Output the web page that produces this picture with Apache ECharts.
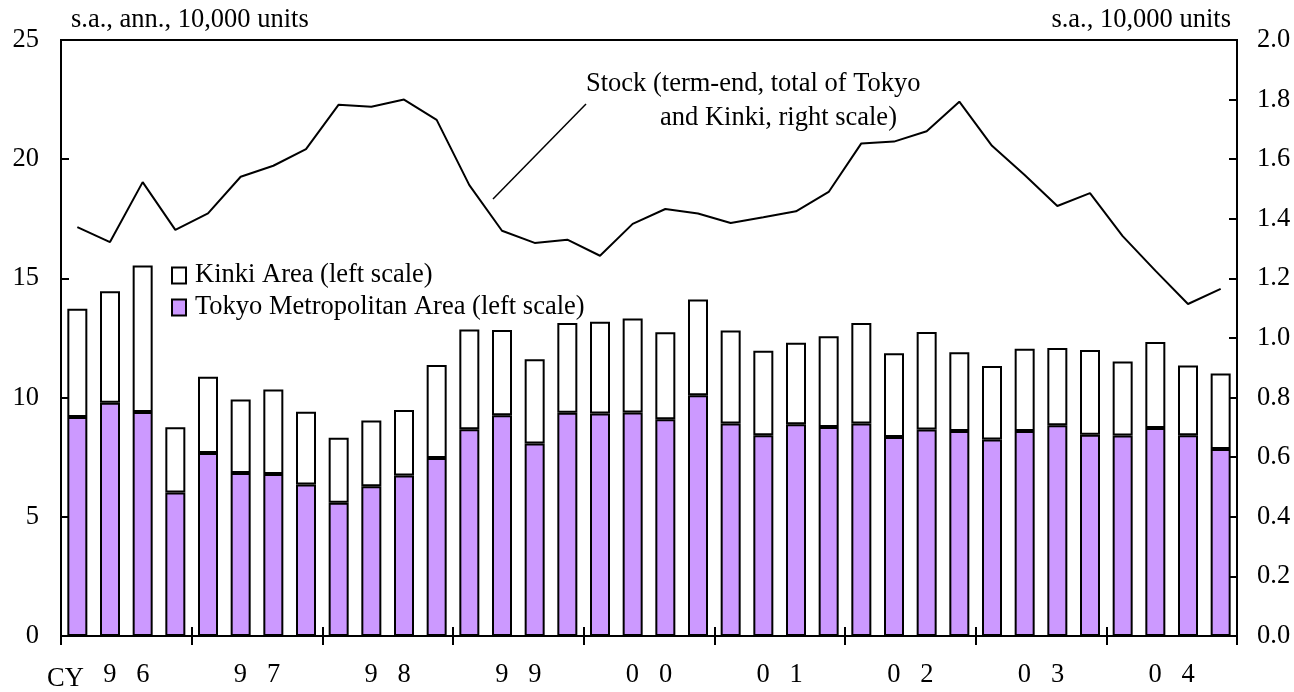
<!DOCTYPE html>
<html>
<head>
<meta charset="utf-8">
<title>Condominium sales and stock</title>
<script src="https://cdn.jsdelivr.net/npm/echarts@6.0.0/dist/echarts.min.js"></script>
<style>
  html, body { margin: 0; padding: 0; background: #fff; }
  #chart { width: 1294px; height: 692px; }
</style>
</head>
<body>
<div id="chart"></div>
<script>
// quarterly categories, CY1996 Q1 .. CY2004 Q4
const quarters = [
  '96Q1', '96Q2', '96Q3', '96Q4', '97Q1', '97Q2', '97Q3', '97Q4',
  '98Q1', '98Q2', '98Q3', '98Q4', '99Q1', '99Q2', '99Q3', '99Q4',
  '00Q1', '00Q2', '00Q3', '00Q4', '01Q1', '01Q2', '01Q3', '01Q4',
  '02Q1', '02Q2', '02Q3', '02Q4', '03Q1', '03Q2', '03Q3', '03Q4',
  '04Q1', '04Q2', '04Q3', '04Q4'
];
// year labels under the axis
const years = ['96', '97', '98', '99', '00', '01', '02', '03', '04'];

// sales, s.a., ann., 10,000 units (left scale)
const tokyo = [
  9.19, 9.78, 9.40, 6.02, 7.68, 6.84, 6.80, 6.35,
  5.59, 6.28, 6.73, 7.47, 8.67, 9.26, 8.07, 9.36,
  9.33, 9.37, 9.09, 10.10, 8.91, 8.42, 8.88, 8.77,
  8.91, 8.35, 8.66, 8.60, 8.24, 8.60, 8.84, 8.44,
  8.41, 8.73, 8.42, 7.84
];
const kinki = [
  4.54, 4.68, 6.14, 2.74, 3.19, 3.08, 3.54, 3.06,
  2.73, 2.76, 2.75, 3.90, 4.19, 3.58, 3.54, 3.77,
  3.85, 3.95, 3.65, 4.01, 3.90, 3.54, 3.42, 3.80,
  4.22, 3.51, 4.09, 3.30, 3.09, 3.45, 3.24, 3.56,
  3.10, 3.60, 2.93, 3.17
];

// stock, term-end, total of Tokyo and Kinki, 10,000 units (right scale)
const stock = [
  1.372, 1.322, 1.523, 1.363, 1.418, 1.541, 1.578, 1.634,
  1.783, 1.776, 1.800, 1.732, 1.513, 1.360, 1.319, 1.330,
  1.276, 1.383, 1.433, 1.418, 1.386, 1.405, 1.425, 1.490,
  1.653, 1.659, 1.694, 1.793, 1.645, 1.547, 1.443, 1.486,
  1.342, 1.226, 1.114, 1.165
];

const FONT = "'Liberation Serif', 'Times New Roman', serif";
const FS = 26.5;
const chart = echarts.init(document.getElementById('chart'));

const option = {
  animation: false,
  backgroundColor: '#fff',
  textStyle: { fontFamily: FONT, color: '#000' },
  grid: {
    left: 61, right: 57, top: 40, bottom: 56,
    show: true,
    borderColor: '#000',
    borderWidth: 2
  },
  legend: {
    orient: 'vertical',
    left: 171,
    top: 262,
    padding: 0,
    itemWidth: 14,
    itemHeight: 16,
    itemGap: 5,
    icon: 'rect',
    textStyle: { fontFamily: FONT, fontSize: FS, color: '#000', padding: [0, 0, 0, 4] },
    data: ['Kinki Area (left scale)', 'Tokyo Metropolitan Area (left scale)']
  },
  xAxis: [
    {
      // quarters: carries the bars and the line
      type: 'category',
      data: quarters,
      boundaryGap: true,
      axisLine: { lineStyle: { color: '#000', width: 2 } },
      axisTick: { show: true, interval: 3, inside: true, length: 9, lineStyle: { color: '#000', width: 2 } },
      axisLabel: { show: false },
      splitLine: { show: false }
    },
    {
      // years: only labels and the outer ticks
      type: 'category',
      data: years,
      position: 'bottom',
      boundaryGap: true,
      axisLine: { show: false },
      axisTick: { show: true, interval: 0, inside: false, length: 9, lineStyle: { color: '#000', width: 2 } },
      axisLabel: {
        interval: 0,
        margin: 26,
        fontFamily: FONT,
        fontSize: FS,
        color: '#000',
        formatter: function (v) { return v.split('').join('   '); }
      },
      splitLine: { show: false }
    }
  ],
  yAxis: [
    {
      type: 'value',
      min: 0, max: 25, interval: 5,
      name: 's.a., ann., 10,000 units',
      nameLocation: 'end',
      nameGap: 6,
      nameTextStyle: { fontFamily: FONT, fontSize: FS, color: '#000', align: 'left', padding: [0, 0, 0, 10] },
      axisLine: { show: true, lineStyle: { color: '#000', width: 2 } },
      axisTick: { show: true, inside: true, length: 8, lineStyle: { color: '#000', width: 2 } },
      axisLabel: { margin: 22, fontFamily: FONT, fontSize: FS, color: '#000' },
      splitLine: { show: false }
    },
    {
      type: 'value',
      min: 0, max: 2.0, interval: 0.2,
      position: 'right',
      name: 's.a., 10,000 units',
      nameLocation: 'end',
      nameGap: 6,
      nameTextStyle: { fontFamily: FONT, fontSize: FS, color: '#000', align: 'right', padding: [0, 6, 0, 0] },
      axisLine: { show: true, lineStyle: { color: '#000', width: 2 } },
      axisTick: { show: true, inside: true, length: 8, lineStyle: { color: '#000', width: 2 } },
      axisLabel: {
        margin: 20, fontFamily: FONT, fontSize: FS, color: '#000',
        formatter: function (v) { return v.toFixed(1); }
      },
      splitLine: { show: false }
    }
  ],
  series: [
    {
      name: 'Tokyo Metropolitan Area (left scale)',
      type: 'bar',
      stack: 'sales',
      barWidth: 20,
      data: tokyo,
      itemStyle: { color: '#CC99FF', borderColor: '#000', borderWidth: 2 }
    },
    {
      name: 'Kinki Area (left scale)',
      type: 'bar',
      stack: 'sales',
      barWidth: 20,
      data: kinki,
      itemStyle: { color: '#fff', borderColor: '#000', borderWidth: 2 }
    },
    {
      name: 'Stock',
      type: 'line',
      yAxisIndex: 1,
      data: stock,
      symbol: 'none',
      lineStyle: { color: '#000', width: 2 },
      z: 5
    }
  ],
  graphic: [
    // leader line from the label to the stock line
    { type: 'line', shape: { x1: 493, y1: 199, x2: 586, y2: 104 }, style: { stroke: '#000', lineWidth: 1.5 } },
    { type: 'text', left: 586, top: 71, style: { text: 'Stock (term-end, total of Tokyo', font: FS + 'px ' + FONT, fill: '#000' } },
    { type: 'text', left: 660, top: 105, style: { text: 'and Kinki, right scale)', font: FS + 'px ' + FONT, fill: '#000' } },
    { type: 'text', left: 47, top: 666, style: { text: 'CY', font: FS + 'px ' + FONT, fill: '#000' } }
  ]
};

chart.setOption(option);
</script>
</body>
</html>
